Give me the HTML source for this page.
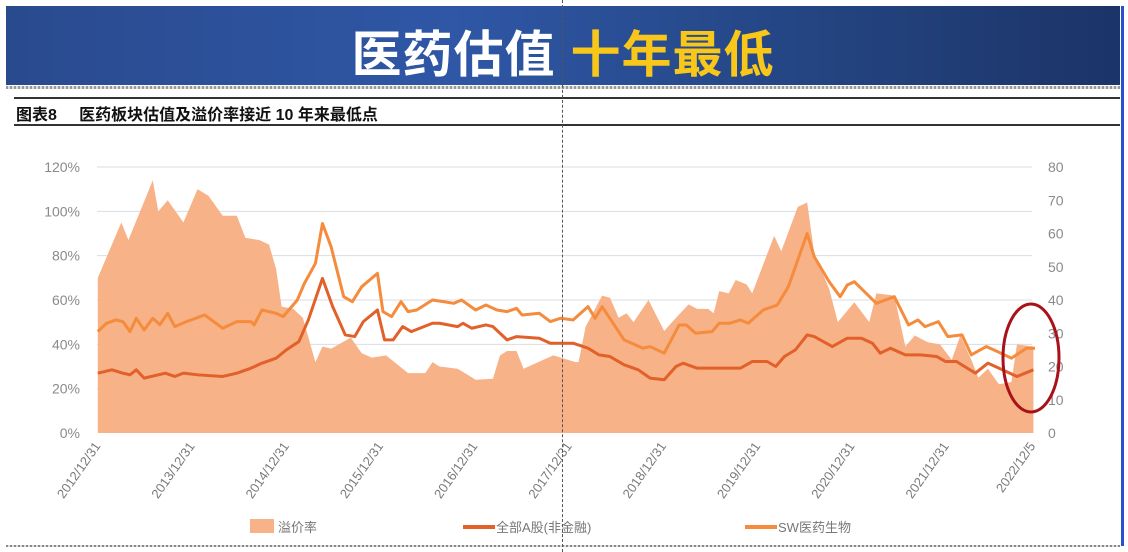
<!DOCTYPE html>
<html><head><meta charset="utf-8">
<style>
html,body{margin:0;padding:0;background:#fff;}
body{width:1128px;height:552px;position:relative;overflow:hidden;font-family:"Liberation Sans","Noto Sans CJK SC",sans-serif;}
#banner{position:absolute;left:6px;top:6px;width:1114px;height:79px;background:linear-gradient(90deg,#2a4a8e 0%,#2f57a6 40%,#23437f 75%,#1c3468 100%);}
#banner-title{position:absolute;left:0;right:0;top:9px;text-align:center;font-size:50px;font-weight:bold;color:#fff;letter-spacing:1px;font-family:"Liberation Sans","Noto Sans CJK SC",sans-serif;}
#banner-title span{color:#f9c61a;}
#sep{position:absolute;left:6px;top:86px;width:1114px;height:3px;background:repeating-linear-gradient(90deg,#999 0 2px,#ddd 2px 4px);}
#rule1{position:absolute;left:14px;top:97px;width:1106px;height:2px;background:#333;}
#rule2{position:absolute;left:14px;top:124px;width:1106px;height:2px;background:#333;}
#fig-title{position:absolute;left:16px;top:101px;font-size:16px;font-weight:bold;color:#111;white-space:pre;}
#vline{position:absolute;left:562px;top:0;width:0;height:552px;border-left:1px dashed #555;}
#bottom{position:absolute;left:6px;top:545px;width:1114px;height:2px;background:repeating-linear-gradient(90deg,#888 0 2px,#ddd 2px 4px);}
#rightbar{position:absolute;left:1121px;top:6px;width:3px;height:540px;background:#2a4fd0;}
svg{position:absolute;left:0;top:0;}
</style></head>
<body>
<div id="banner"><div id="banner-title">医药估值 <span>十年最低</span></div></div>
<div id="sep"></div>
<div id="rule1"></div>
<div id="fig-title">图表8     医药板块估值及溢价率接近 10 年来最低点</div>
<div id="rule2"></div>
<div id="rightbar"></div>
<div id="bottom"></div>
<svg id="chart" width="1128" height="552"></svg>
<div id="vline"></div>
<script>
const xTickLabels=["2012/12/31","2013/12/31","2014/12/31","2015/12/31","2016/12/31","2017/12/31","2018/12/31","2019/12/31","2020/12/31","2021/12/31","2022/12/5"];
const xTickMonths=[0,12,24,36,48,60,72,84,96,108,119];
const leftTicks=[0,20,40,60,80,100,120];
const rightTicks=[0,10,20,30,40,50,60,70,80];
const premMonths=[0.1,3.1,4,7.1,7.8,9,11,12.8,14.2,16,17.8,18.9,20.7,21.9,22.8,23.5,25,26.2,27.8,28.7,29.8,32.3,33.7,35,36.8,39.6,41.8,42.7,43.6,45.9,47.3,48.2,50.4,51.3,52.2,53.4,54.3,56.8,58.1,60.9,61.3,62.2,64.3,65.3,66.4,67.4,68.3,70.2,72.2,73.2,75.3,76.4,77.8,78.5,79.2,80.4,81.3,82.7,83.4,86.2,87.1,89.2,90.4,91.3,93.2,94.3,96.4,98.3,99.2,101.5,102.9,104.1,105.7,107.3,108.8,109.9,111.3,112.2,113.4,114.8,116.4,117.1,119.2];
const premValues=[70,95,87,114,100,105,95,110,107,98,98,88,87,85,74,57,56,52,32,39,38,43,36,34,35,27,27,32,30,29,26,24,24.5,35,37,37,29,33,35,32,32,48,62,61,52,54,50,60,46,50,58,56,56,54,64,63,69,67,63,89,82,102,104,81,65,50,59,50,63,62,39,44,41,40,33,44,33,25,29,22,23,40,39];
const swMonths=[0.1,1.2,2.4,3.3,4.2,5,6,7.1,8,9,9.9,11.4,13.7,16,17.8,19.6,20,21,22.8,23.7,25.5,26.4,27.8,28.7,29.8,31.4,32.5,33.7,35.7,36.4,37.5,38.7,39.6,40.7,42.7,44.1,45.4,46.4,48.2,49.5,50.9,52.2,53.4,54.1,56.3,57.7,59,60.6,62.5,63.4,64.3,67.1,69.5,70.4,72.2,74.1,75,76.2,78.3,79.2,80.5,81.9,82.9,84.8,86.6,88,90.4,91.3,93.2,94.6,95.5,96.4,99.2,101.5,103.3,104.5,105.4,107.1,108.3,110.1,111.3,113.2,114.6,116.4,118.3,119.4];
const swValues=[30.5,33,34,33.5,30.5,34.5,31,34.5,32.6,36,32,33.5,35.5,31.5,33.5,33.5,32.5,37,36,35,40,45,51,63,56,41,39.5,44,48,36.5,35,39.5,36.5,37,40,39.5,39,40,37,38.5,37,36.5,37.5,35.5,36,33.5,34.5,34,38,34.5,38,28,25.5,26,24,32.5,32.5,30,30.5,33,33,34,33,37,38.5,44,60,53,45.5,41,44.5,45.5,39,41,32.5,34,32,33.5,29,29.5,23.5,26,24.5,22.5,25.5,25.5];
const allMonths=[0.1,1.9,3.3,4.2,5,6,8.7,9.9,11,12.8,16,17.8,19.6,21,22.8,24.1,25.7,26.9,28.7,30,31.6,32.8,33.9,35.7,36.6,37.7,38.9,40,42.7,43.6,45.9,46.6,47.7,49.5,50.4,52.2,53.4,56.3,57.7,59.5,60.6,62.5,63.9,65.3,67.1,68.9,70.4,72.2,73.7,74.6,76.4,78.3,81.9,83.4,85.3,86.4,87.5,88.9,90.4,91.3,93.6,95.5,97.3,98.7,99.7,101,102.9,104.8,106.9,108,109.4,111.8,113.4,114.8,117.1,119.2];
const allValues=[18,19,18,17.5,19,16.5,18,17,18,17.5,17,18,19.5,21,22.5,25,27.5,34,46.5,38,29.5,29,33.5,37,28,28,32,30.5,33,33,32,33,31.5,32.5,32,28,29,28.5,27,27,27,25.5,23.5,23,20.5,19,16.5,16,20,21,19.5,19.5,19.5,21.5,21.5,20,23,25,29.5,29,26,28.5,28.5,27,24,25.5,23.5,23.5,23,21.5,21.5,18,21,19.5,17,19];

const NS="http://www.w3.org/2000/svg";
const svg=document.getElementById('chart');
const X0=97,X1=1035,Y0=433,Y1=167;
const xs=m=>X0+(X1-X0)*m/119.4;
const yL=v=>Y0-(Y0-Y1)*v/120;
const yR=v=>Y0-(Y0-Y1)*v/80;
function mk(tag,attrs){const e=document.createElementNS(NS,tag);for(const k in attrs)e.setAttribute(k,attrs[k]);svg.appendChild(e);return e;}

leftTicks.forEach(t=>{
  if(t>0){const g=mk('line',{x1:X0,x2:1032,y1:yL(t),y2:yL(t),stroke:'#d9dde3','stroke-width':1});
  
  }
  const l=mk('text',{x:80,y:yL(t)+5,'text-anchor':'end','font-size':14,fill:'#8a8a8a','font-family':'Liberation Sans, sans-serif'});
  l.textContent=t+'%';
  
  
});
rightTicks.forEach(t=>{
  const l=mk('text',{x:1048,y:yR(t)+5,'font-size':14,fill:'#8a8a8a','font-family':'Liberation Sans, sans-serif'});
  l.textContent=t;
  
  
});
let d='M'+xs(premMonths[0])+','+Y0;
premMonths.forEach((m,i)=>{d+=' L'+xs(m)+','+yL(premValues[i]);});
d+=' L'+xs(premMonths[premMonths.length-1])+','+Y0+' Z';
const area=mk('path',{d:d,fill:'#f8b287'});


function line(ms,vs,col,name){
  const pts=ms.map((m,i)=>xs(m)+','+yR(vs[i])).join(' ');
  const p=mk('polyline',{points:pts,fill:'none',stroke:col,'stroke-width':3,'stroke-linejoin':'round'});
  
  
}
line(allMonths,allValues,'#e2602a','all-a-share-line');
line(swMonths,swValues,'#f58b3c','sw-pharma-line');
xTickLabels.forEach((s,i)=>{
  const x=xs(xTickMonths[i])+4,y=446;
  const t=mk('text',{x:x,y:y,'text-anchor':'end','font-size':13,fill:'#7a7a7a','font-family':'Liberation Sans, sans-serif',transform:'rotate(-55 '+x+' '+y+')'});
  t.textContent=s;
  
  
});
const el=mk('ellipse',{cx:1031,cy:358,rx:28,ry:54,fill:'none',stroke:'#a8121a','stroke-width':3});


const lg=[{t:'溢价率',x:250,type:'box',c:'#f8b287'},{t:'全部A股(非金融)',x:463,type:'line',c:'#e2602a'},{t:'SW医药生物',x:745,type:'line',c:'#f58b3c'}];
lg.forEach(o=>{
  let s;
  if(o.type==='box'){s=mk('rect',{x:o.x,y:519,width:24,height:14,fill:o.c});}
  else{s=mk('line',{x1:o.x,x2:o.x+32,y1:527,y2:527,stroke:o.c,'stroke-width':4});}
  
  
  const t=mk('text',{x:o.x+(o.type==='box'?28:33),y:532,'font-size':13,fill:'#777','font-family':'Liberation Sans, Noto Sans CJK SC, sans-serif'});
  t.textContent=o.t;
  
  
});
</script>
</body></html>
